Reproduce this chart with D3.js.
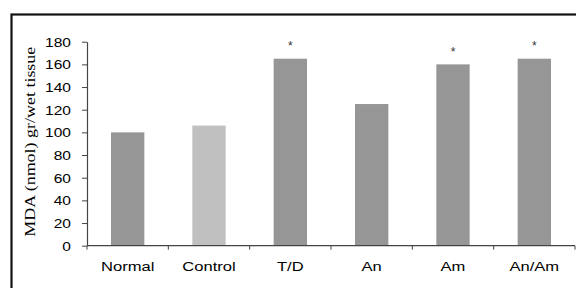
<!DOCTYPE html>
<html>
<head>
<script src="https://d3js.org/d3.v7.min.js"></script>
<style type="text/css">
  body { margin: 0; background: #fff; }
  svg { display: block; }
</style>
</head>
<body>
<script type="text/javascript">

  // data
  var groups = ["Normal", "Control", "T/D", "An", "Am", "An/Am"];
  var mda = [100, 106, 165, 125, 160, 165];
  var starred = [false, false, true, false, true, true];
  var barColors = ["#969696", "#c0c0c0", "#969696", "#969696", "#969696", "#969696"];
  var yTicks = [0, 20, 40, 60, 80, 100, 120, 140, 160, 180];

  var W = 576, H = 288;
  var margin = {top: 41.7, left: 87, right: 1, bottom: 42.3};

  var svg = d3.select("body").append("svg")
      .attr("width", W)
      .attr("height", H);

  // outer frame (right and bottom edges run off the picture)
  svg.append("rect")
      .attr("x", 11.5).attr("y", 14.5)
      .attr("width", 600).attr("height", 300)
      .attr("fill", "none")
      .attr("stroke", "#111")
      .attr("stroke-width", 2.2);

  var x = d3.scaleBand()
      .domain(groups)
      .range([margin.left, W - margin.right])
      .paddingInner(0.59)
      .paddingOuter(0.295);

  var y = d3.scaleLinear()
      .domain([0, 180])
      .range([H - margin.bottom, margin.top]);

  // bars
  svg.selectAll(".bar")
      .data(mda)
      .enter().append("rect")
      .attr("class", "bar")
      .attr("x", function(d, i) { return x(groups[i]); })
      .attr("y", function(d) { return y(d); })
      .attr("width", x.bandwidth())
      .attr("height", function(d) { return y(0) - y(d); })
      .attr("fill", function(d, i) { return barColors[i]; });

  // significance marks
  var stars = groups.map(function(g, i) { return {g: g, v: mda[i], s: starred[i]}; })
      .filter(function(d) { return d.s; });
  svg.selectAll(".star")
      .data(stars)
      .enter().append("text")
      .attr("class", "star")
      .attr("x", function(d) { return x(d.g) + x.bandwidth() / 2; })
      .attr("y", function(d) { return y(d.v) - 8.5; })
      .attr("text-anchor", "middle")
      .attr("font-family", "Arial, 'Liberation Sans', sans-serif")
      .attr("font-size", 12)
      .attr("fill", "#333")
      .text("*");

  // stretch helper - the source figure's text is widened
  function widen(sel, k) {
    sel.each(function() {
      var w = this.getComputedTextLength();
      d3.select(this).attr("textLength", w * k).attr("lengthAdjust", "spacingAndGlyphs");
    });
  }

  // y axis
  var yAxis = svg.append("g")
      .attr("transform", "translate(" + margin.left + ",0)")
      .call(d3.axisLeft(y).tickValues(yTicks).tickSize(5).tickPadding(11).tickSizeOuter(0));
  yAxis.select(".domain").attr("stroke", "#444").attr("stroke-width", 1.2);
  yAxis.selectAll(".tick line").attr("stroke", "#444");
  yAxis.selectAll("text")
      .attr("font-family", "Arial, 'Liberation Sans', sans-serif")
      .attr("font-size", 13.5)
      .attr("fill", "#000")
      .call(widen, 1.15);

  // x axis, ticks between the bands
  var xAxis = svg.append("g")
      .attr("transform", "translate(0," + y(0) + ")");
  xAxis.append("line")
      .attr("x1", margin.left).attr("x2", W - margin.right)
      .attr("stroke", "#444").attr("stroke-width", 1.2);
  var step = x.step();
  xAxis.selectAll(".xt")
      .data(d3.range(groups.length + 1))
      .enter().append("line")
      .attr("class", "xt")
      .attr("x1", function(i) { return margin.left + i * step; })
      .attr("x2", function(i) { return margin.left + i * step; })
      .attr("y1", 0).attr("y2", 4)
      .attr("stroke", "#444");
  xAxis.selectAll(".xl")
      .data(groups)
      .enter().append("text")
      .attr("class", "xl")
      .attr("x", function(d) { return x(d) + x.bandwidth() / 2; })
      .attr("y", 25)
      .attr("text-anchor", "middle")
      .attr("font-family", "Arial, 'Liberation Sans', sans-serif")
      .attr("font-size", 12)
      .attr("fill", "#000")
      .text(function(d) { return d; })
      .call(widen, 1.38);

  // y axis title
  svg.append("text")
      .attr("transform", "translate(34.5," + ((margin.top + y(0)) / 2 - 2) + ") rotate(-90)")
      .attr("text-anchor", "middle")
      .attr("font-family", "'Times New Roman', 'Liberation Serif', serif")
      .attr("font-size", 15.5)
      .attr("fill", "#000")
      .attr("textLength", 190)
      .attr("lengthAdjust", "spacingAndGlyphs")
      .text("MDA (nmol) gr/wet tissue");

</script>
</body>
</html>
